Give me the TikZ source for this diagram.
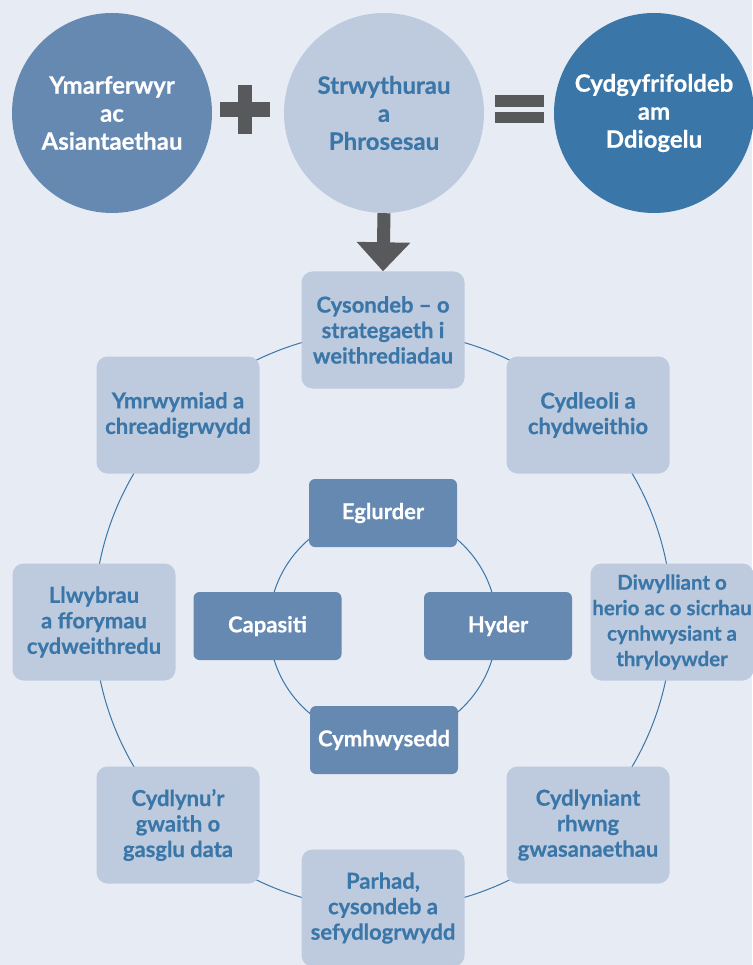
\documentclass[tikz,border=0pt]{standalone}
\usepackage{fontspec}
\setmainfont{Lato}[BoldFont={Lato Bold}, BoldFeatures={FakeBold=0.5}]
\usetikzlibrary{arrows.meta}
\definecolor{bg}{HTML}{E7EBF4}
\definecolor{lightbox}{HTML}{BECBDF}
\definecolor{midblue}{HTML}{6689B2}
\definecolor{darkblue}{HTML}{3A76A7}
\definecolor{signgray}{HTML}{58595B}
\tikzset{
  bigcirc/.style={circle, minimum size=200pt, inner sep=0pt, align=center,
    font=\fontsize{24}{28}\selectfont\bfseries},
  outerbox/.style={rectangle, rounded corners=11pt, fill=lightbox, minimum width=163pt,
    minimum height=117pt, inner sep=0pt, align=center, text=darkblue,
    font=\fontsize{22}{25.5}\selectfont\bfseries},
  innerbox/.style={rectangle, rounded corners=6pt, fill=midblue, minimum width=148pt,
    minimum height=68pt, inner sep=0pt, align=center, text=white,
    font=\fontsize{22}{25}\selectfont\bfseries},
  ring/.style={draw=darkblue, line width=1pt},
  sign/.style={fill=signgray, draw=none},
}
\begin{document}
\begin{tikzpicture}[x=1pt, y=-1pt]
\fill[bg] (0,0) rectangle (752,965);
\useasboundingbox (0,0) rectangle (752,965);

% rings
\coordinate (ringc) at (383,620);
\coordinate (innerc) at (383,626);
\draw[ring] (ringc) circle (289);
\draw[ring] (innerc) circle (114);

% top circles
\node[bigcirc, fill=midblue, text=white] (prac) at (112,113) {Ymarferwyr\\ac\\Asiantaethau};
\node[bigcirc, fill=lightbox, text=darkblue] (struct) at (384,113) {Strwythurau\\a\\Phrosesau};
\node[bigcirc, fill=darkblue, text=white] (result) at (654,113) {Cydgyfrifoldeb\\am\\Ddiogelu};

% plus sign
\fill[sign] (220,102) rectangle (270,117);
\fill[sign] (238,85) rectangle (252,134);
% equal sign
\fill[sign] (495,95) rectangle (544,107);
\fill[sign] (495,112) rectangle (544,123);

% outer boxes
\node[outerbox] (cys) at (383,330) {Cysondeb – o\\strategaeth i\\weithrediadau};
\node[outerbox] (cydl) at (588,415) {Cydleoli a\\chydweithio};
\node[outerbox, font=\fontsize{20.5}{25.5}\selectfont\bfseries] (diw) at (672,622) {Diwylliant o\\herio ac o sicrhau\\cynhwysiant a\\thryloywder};
\node[outerbox] (cydn) at (588,825) {Cydlyniant\\rhwng\\gwasanaethau};
\node[outerbox] (parh) at (383,908) {Parhad,\\cysondeb a\\sefydlogrwydd};
\node[outerbox] (data) at (178,825) {Cydlynu’r\\gwaith o\\gasglu data};
\node[outerbox] (llwy) at (94,622) {Llwybrau\\a fforymau\\cydweithredu};
\node[outerbox] (ymr) at (178,415) {Ymrwymiad a\\chreadigrwydd};

% inner boxes
\node[innerbox] (egl) at (383,513) {Eglurder};
\node[innerbox] (cap) at (267.5,626) {Capasiti};
\node[innerbox] (hyd) at (498,626) {Hyder};
\node[innerbox] (cym) at (384,740) {Cymhwysedd};

% arrow
\draw[signgray, line width=13pt, -{Triangle[width=52pt, length=29pt]}] (struct.south) -- (cys.north);
\end{tikzpicture}
\end{document}
